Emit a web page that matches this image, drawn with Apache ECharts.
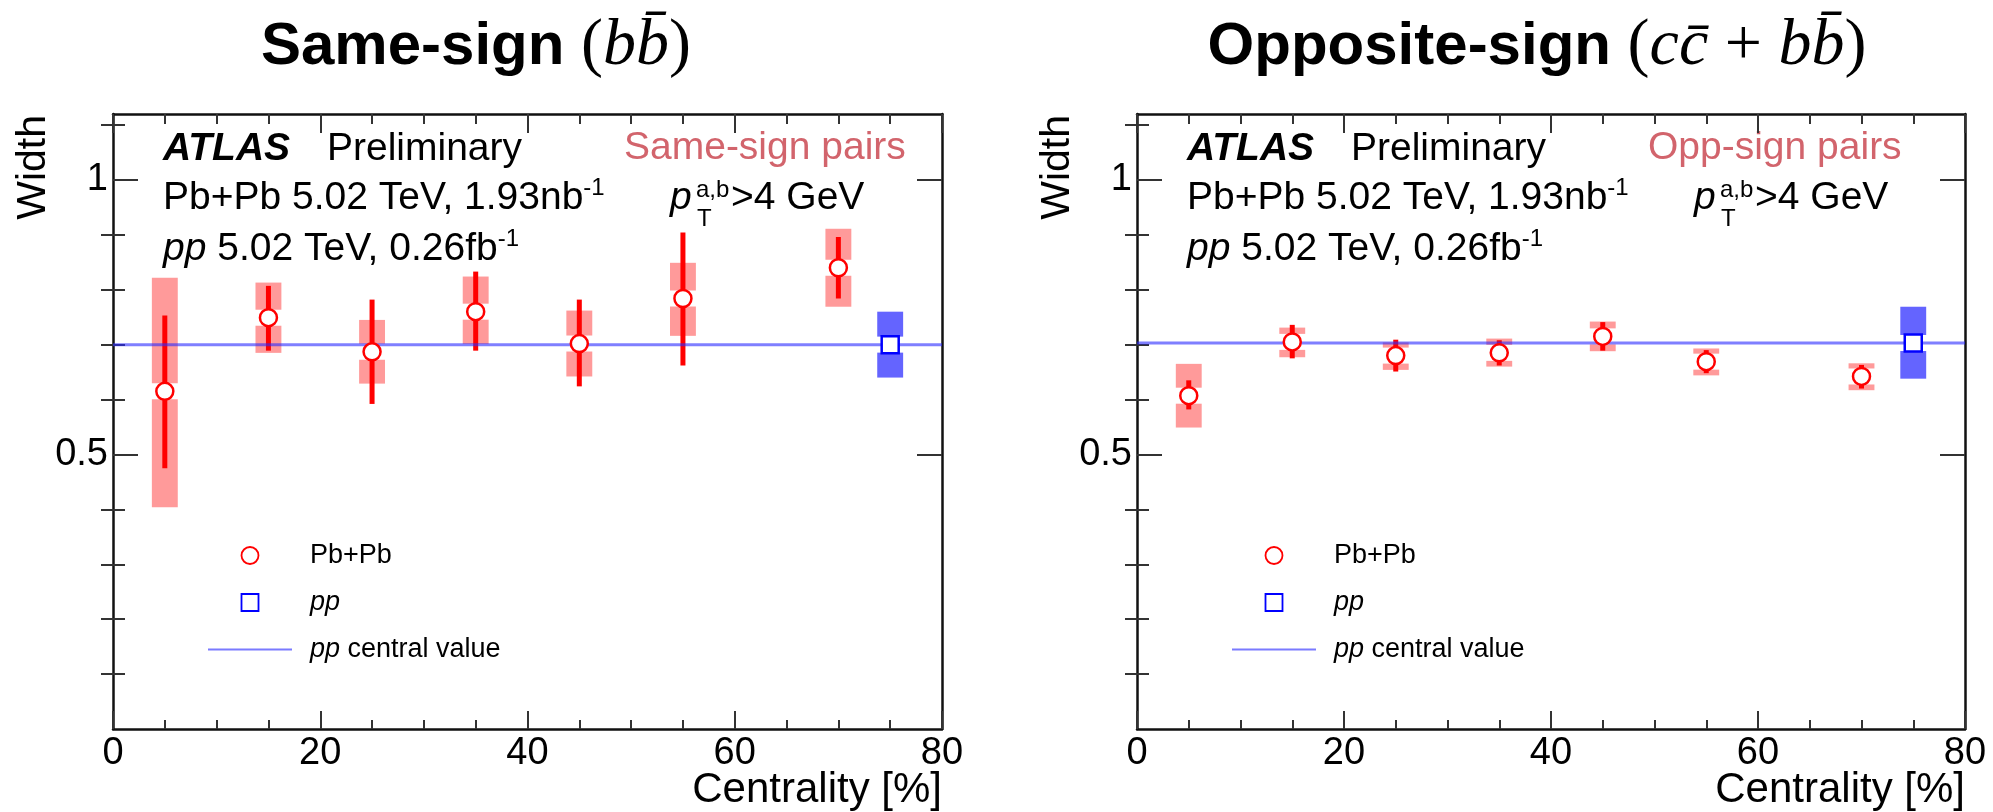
<!DOCTYPE html>
<html><head><meta charset="utf-8">
<script src="https://cdn.jsdelivr.net/npm/echarts@6/dist/echarts.min.js"></script>
<style>html,body{margin:0;padding:0;background:#fff}#c{width:1993px;height:812px}</style>
</head><body><div id="c"></div>
<script>
// ---------------- data ----------------
const centrality = [5, 15, 25, 35, 45, 55, 70];
const ppCentrality = 75;
const xRange = [0, 80];
const yRange = [0, 1.12];
const xTickLabels = [0, 20, 40, 60, 80];
const yMajorTicks = [0.5, 1.0];
const yMinorTicks = [0.1, 0.2, 0.3, 0.4, 0.6, 0.7, 0.8, 0.9, 1.1];

// Same-sign (b bbar)
const ssWidth   = [0.615, 0.749, 0.687, 0.760, 0.702, 0.784, 0.840];
const ssStatLo  = [0.475, 0.689, 0.592, 0.689, 0.624, 0.662, 0.784];
const ssStatHi  = [0.753, 0.807, 0.782, 0.833, 0.782, 0.904, 0.896];
const ssSysLo   = [0.404, 0.685, 0.629, 0.701, 0.642, 0.716, 0.769];
const ssSysHi   = [0.822, 0.813, 0.745, 0.824, 0.762, 0.849, 0.911];
const ssPP      = 0.700;
const ssPPSys   = [0.640, 0.760];

// Opposite-sign (c cbar + b bbar)
const osWidth   = [0.607, 0.705, 0.680, 0.685, 0.715, 0.669, 0.642];
const osStatLo  = [0.582, 0.675, 0.651, 0.662, 0.689, 0.648, 0.620];
const osStatHi  = [0.635, 0.736, 0.709, 0.708, 0.741, 0.690, 0.663];
const osSysLo   = [0.549, 0.677, 0.654, 0.660, 0.688, 0.644, 0.617];
const osSysHi   = [0.665, 0.731, 0.704, 0.711, 0.742, 0.693, 0.666];
const osPP      = 0.703;
const osPPSys   = [0.638, 0.769];

// ---------------- layout / style ----------------
const FF = '"Liberation Sans", Arial, Helvetica, sans-serif';
const SERIF = '"Liberation Serif", "Times New Roman", serif';
const gridLeft = [113, 1137];
const gridRight = [942, 1965];
const tickStyle = {color: '#333', width: 2};
const frameStyle = {color: '#111', width: 2.5};
const BOX_HALF = 1.25;   // half width of systematic boxes in x units
const BOX_GAP = 8;       // px gap around marker

function boxRender(color) {
  return function (params, api) {
    const x = api.value(0), lo = api.value(1), hi = api.value(2), c = api.value(3);
    const tl = api.coord([x - BOX_HALF, hi]);
    const br = api.coord([x + BOX_HALF, lo]);
    const cc = api.coord([x, c]);
    const w = br[0] - tl[0];
    const children = [];
    const topH = cc[1] - BOX_GAP - tl[1];
    if (topH > 0) children.push({type: 'rect', shape: {x: tl[0], y: tl[1], width: w, height: topH}, style: {fill: color}});
    const botH = br[1] - (cc[1] + BOX_GAP);
    if (botH > 0) children.push({type: 'rect', shape: {x: tl[0], y: cc[1] + BOX_GAP, width: w, height: botH}, style: {fill: color}});
    return {type: 'group', children: children};
  };
}
function statRender(params, api) {
  const x = api.value(0);
  const a = api.coord([x, api.value(1)]);
  const b = api.coord([x, api.value(2)]);
  return {type: 'line', shape: {x1: a[0], y1: a[1], x2: b[0], y2: b[1]}, style: {stroke: '#ff0000', lineWidth: 5}};
}

function panelSeries(g, vals, statLo, statHi, sysLo, sysHi, pp, ppSys) {
  const xi = 2 * g, yi = 4 * g;
  return [
    {type: 'custom', name: 'sys' + g, xAxisIndex: xi, yAxisIndex: yi, z: 2,
     renderItem: boxRender('#ff9a9a'), encode: {x: 0, y: [1, 2, 3]},
     data: centrality.map((c, i) => [c, sysLo[i], sysHi[i], vals[i]])},
    {type: 'custom', name: 'ppsys' + g, xAxisIndex: xi, yAxisIndex: yi, z: 2,
     renderItem: boxRender('#6464ff'), encode: {x: 0, y: [1, 2, 3]},
     data: [[ppCentrality, ppSys[0], ppSys[1], pp]]},
    {type: 'custom', name: 'stat' + g, xAxisIndex: xi, yAxisIndex: yi, z: 3,
     renderItem: statRender, encode: {x: 0, y: [1, 2]},
     data: centrality.map((c, i) => [c, statLo[i], statHi[i]])},
    {type: 'line', name: 'pp central value', xAxisIndex: xi, yAxisIndex: yi, z: 4,
     symbol: 'none', silent: true,
     lineStyle: {color: '#2a2aff', opacity: 0.6, width: 3},
     itemStyle: {color: '#7a7aff'},
     data: [[xRange[0], pp], [xRange[1], pp]]},
    {type: 'scatter', name: 'Pb+Pb', xAxisIndex: xi, yAxisIndex: yi, z: 5,
     symbol: 'circle', symbolSize: 17,
     itemStyle: {color: '#ffffff', borderColor: '#ff0000', borderWidth: 2.5, opacity: 1},
     data: centrality.map((c, i) => [c, vals[i]])},
    {type: 'scatter', name: 'pp', xAxisIndex: xi, yAxisIndex: yi, z: 5,
     symbol: 'rect', symbolSize: 17,
     itemStyle: {color: '#ffffff', borderColor: '#0000ff', borderWidth: 2.5, opacity: 1},
     data: [[ppCentrality, pp]]}
  ];
}

function xAxes(g) {
  const base = {gridIndex: g, type: 'value', min: xRange[0], max: xRange[1], interval: 20,
    splitLine: {show: false}, axisLine: {show: true, onZero: false, lineStyle: frameStyle}};
  return [
    Object.assign({}, base, {position: 'bottom',
      axisTick: {show: true, inside: true, length: 18, lineStyle: tickStyle},
      minorTick: {show: true, splitNumber: 4, length: 9, lineStyle: tickStyle},
      axisLabel: {show: true, customValues: xTickLabels, fontSize: 38, margin: 6, color: '#000', fontFamily: FF}}),
    Object.assign({}, base, {position: 'top',
      axisTick: {show: true, inside: true, length: 19, lineStyle: tickStyle},
      minorTick: {show: true, splitNumber: 4, length: 10, lineStyle: tickStyle},
      axisLabel: {show: false}})
  ];
}
function yAxes(g) {
  const base = {gridIndex: g, type: 'value', min: yRange[0], max: yRange[1],
    splitLine: {show: false}, axisLine: {show: true, onZero: false, lineStyle: frameStyle}};
  return [
    Object.assign({}, base, {position: 'left',
      axisTick: {show: true, inside: true, length: 25, customValues: yMajorTicks, lineStyle: tickStyle},
      axisLabel: {show: true, customValues: yMajorTicks, fontSize: 38, margin: 5, color: '#000', fontFamily: FF}}),
    Object.assign({}, base, {position: 'left', axisLine: {show: false},
      axisTick: {show: true, inside: true, length: 12, customValues: yMinorTicks, lineStyle: tickStyle},
      axisLabel: {show: false}}),
    Object.assign({}, base, {position: 'right',
      axisTick: {show: true, inside: true, length: 25, customValues: yMajorTicks, lineStyle: tickStyle},
      axisLabel: {show: false}}),
    Object.assign({}, base, {position: 'right', axisLine: {show: false},
      axisTick: {show: true, inside: true, length: 12, customValues: yMinorTicks, lineStyle: tickStyle},
      axisLabel: {show: false}})
  ];
}

function txt(x, y, text, opts) {
  opts = opts || {};
  const style = {
    text: text, fill: opts.fill || '#000', textFill: opts.fill || '#000',
    font: opts.font || ('39px ' + FF),
    align: opts.align || 'left', textAlign: opts.align || 'left',
    verticalAlign: 'middle', textVerticalAlign: 'middle'
  };
  if (opts.rich) style.rich = opts.rich;
  const el = {type: 'text', x: x, y: y, style: style, silent: true};
  if (opts.rotation) el.rotation = opts.rotation;
  return el;
}

const supRich = {
  m: {fontSize: 39, fontFamily: FF, lineHeight: 44, verticalAlign: 'middle', color: '#000'},
  mi: {fontSize: 39, fontFamily: FF, fontStyle: 'italic', lineHeight: 44, verticalAlign: 'middle', color: '#000'},
  s: {fontSize: 24, fontFamily: FF, lineHeight: 26, verticalAlign: 'top', color: '#000'}
};
const titleRich = {
  b: {fontSize: 60, fontFamily: FF, fontWeight: 'bold', color: '#000', lineHeight: 70},
  r: {fontSize: 66, fontFamily: SERIF, color: '#000', lineHeight: 70},
  m: {fontSize: 66, fontFamily: SERIF, fontStyle: 'italic', color: '#000', lineHeight: 70}
};

function panelTexts(g, pairLabel, titleText, titleX) {
  const ox = gridLeft[g];
  return [
    txt(titleX, 47, titleText, {rich: titleRich, align: 'center'}),
    txt(ox + 50, 149, 'ATLAS', {font: 'italic bold 39px ' + FF}),
    txt(ox + 214, 149, 'Preliminary'),
    txt(ox + 511, 148, pairLabel, {fill: '#d2646c'}),
    txt(ox + 50, 198, '{m|Pb+Pb 5.02 TeV, 1.93nb}{s|-1}', {rich: supRich}),
    txt(ox + 50, 249, '{mi|pp}{m| 5.02 TeV, 0.26fb}{s|-1}', {rich: supRich}),
    txt(ox + 557, 198, 'p', {font: 'italic 39px ' + FF}),
    txt(ox + 583, 190, 'a,b', {font: '24px ' + FF}),
    txt(ox + 584, 219, 'T', {font: '24px ' + FF}),
    txt(ox + 618, 198, '>4 GeV'),
    txt(ox - 79, 115, 'Width', {font: '41px ' + FF, align: 'right', rotation: Math.PI / 2}),
    txt(gridRight[g], 790, 'Centrality [%]', {font: '42px ' + FF, align: 'right'})
  ];
}

function legendFor(g) {
  return {
    data: [
      {name: 'Pb+Pb'},
      {name: 'pp', icon: 'path://M0,0L10,0L10,10L0,10Z'},
      {name: 'pp central value', icon: 'path://M0,0L84,0L84,2.2L0,2.2Z', itemStyle: {borderWidth: 0, color: '#7a7aff'}}
    ],
    orient: 'vertical', left: gridLeft[g] + 95, top: 542,
    itemWidth: 84, itemHeight: 17, itemGap: 20, padding: 0, selectedMode: false,
    symbolKeepAspect: true,
    itemStyle: {borderWidth: 1.8},
    textStyle: {fontFamily: FF, fontSize: 27, color: '#000', padding: [0, 0, 0, 13],
      rich: {i: {fontFamily: FF, fontSize: 27, fontStyle: 'italic', color: '#000'}}},
    formatter: function (n) {
      if (n === 'pp') return '{i|pp}';
      if (n === 'pp central value') return '{i|pp} central value';
      return n;
    }
  };
}

const chart = echarts.init(document.getElementById('c'), null, {renderer: 'canvas'});
chart.setOption({
  animation: false,
  backgroundColor: '#ffffff',
  textStyle: {fontFamily: FF},
  grid: [
    {left: gridLeft[0], top: 114, width: gridRight[0] - gridLeft[0], height: 615},
    {left: gridLeft[1], top: 114, width: gridRight[1] - gridLeft[1], height: 615}
  ],
  xAxis: xAxes(0).concat(xAxes(1)),
  yAxis: yAxes(0).concat(yAxes(1)),
  legend: [legendFor(0), legendFor(1)],
  series: panelSeries(0, ssWidth, ssStatLo, ssStatHi, ssSysLo, ssSysHi, ssPP, ssPPSys)
    .concat(panelSeries(1, osWidth, osStatLo, osStatHi, osSysLo, osSysHi, osPP, osPPSys)),
  graphic: panelTexts(0, 'Same-sign pairs', '{b|Same-sign }{r|(}{m|bb\u0304}{r|)}', 476)
    .concat(panelTexts(1, 'Opp-sign pairs', '{b|Opposite-sign }{r|(}{m|cc\u0304}{r| + }{m|bb\u0304}{r|)}', 1537))
});
</script>
</body></html>
